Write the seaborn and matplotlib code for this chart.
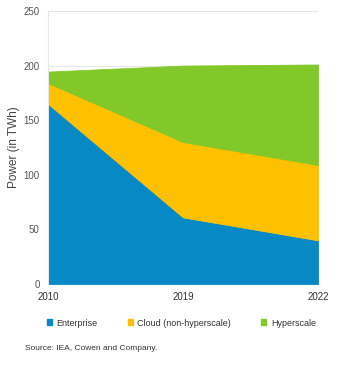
import matplotlib
matplotlib.use("Agg")
import matplotlib.pyplot as plt
import seaborn as sns
from matplotlib.patches import Patch

# data
years = ["2010", "2019", "2022"]
enterprise = [165, 61, 40]
cloud = [19, 69, 69]
hyperscale = [10.5, 70, 92]
labels = ["Enterprise", "Cloud (non-hyperscale)", "Hyperscale"]
colors = ["#0789C6", "#FFC000", "#82C828"]

sns.set_style("white")
plt.rcParams["font.family"] = ["Liberation Sans", "DejaVu Sans"]

fig = plt.figure(figsize=(3.52, 3.65), dpi=100)
ax = fig.add_axes([48 / 352, 1 - 284 / 365, 270 / 352, 273 / 365])

x = list(range(len(years)))
polys = ax.stackplot(x, enterprise, cloud, hyperscale, colors=colors, zorder=2)
for p, c in zip(polys, colors):
    p.set_edgecolor(c)
    p.set_linewidth(0.6)

ax.set_xlim(0, 2)
ax.set_ylim(0, 250)
ax.set_yticks([0, 50, 100, 150, 200, 250])
ax.set_xticks(x)
ax.set_xticklabels(years)
ax.yaxis.grid(True, color="#E3E6EA", linewidth=0.8, zorder=0)
ax.set_axisbelow(True)
ax.tick_params(axis="both", labelsize=7, colors="#333333", length=0)
ax.tick_params(axis="x", pad=6)
ax.tick_params(axis="y", pad=6, labelcolor="#555555")
ax.set_ylabel("Power (in TWh)", fontsize=8.5, color="#444444", labelpad=2.5)
for s in ["top", "right", "bottom"]:
    ax.spines[s].set_visible(False)
ax.spines["left"].set_color("#E3E6EA")

handles = [Patch(color=c, label=l) for c, l in zip(colors, labels)]
fig.legend(handles=handles, loc="center", bbox_to_anchor=(0.515, 1 - 323 / 365),
           ncol=3, frameon=False, fontsize=6.5, handlelength=0.6, handleheight=0.6,
           handletextpad=0.5, columnspacing=3.3, labelcolor="#333333")

fig.text(25 / 352, 1 - 349 / 365, "Source: IEA, Cowen and Company.",
         fontsize=6, color="#333333", va="center")

fig.savefig("out.png", dpi=100)
